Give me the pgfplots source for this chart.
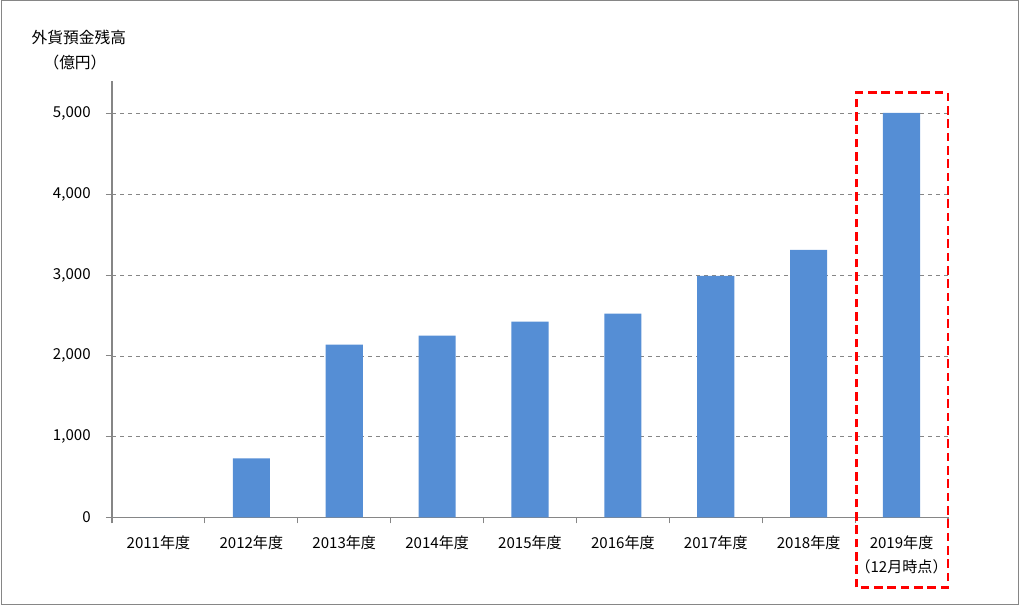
\documentclass[border=0pt]{standalone}
\usepackage{fontspec}
\setmainfont{Noto Sans CJK JP}
\usepackage{pgfplots}
\pgfplotsset{compat=1.18}
\definecolor{barblue}{RGB}{85,142,213}
\definecolor{axgray}{RGB}{134,134,134}
\begin{document}
\begin{tikzpicture}
\begin{axis}[
  at={(0,0)}, anchor=south west,
  scale only axis,
  width=627pt, height=327pt,
  xmin=-0.5, xmax=8.5,
  ymin=0, ymax=5400,
  axis lines=left,
  axis line style={-, axgray, line width=0.8pt},
  ytick={0,1000,2000,3000,4000,5000},
  xtick={0,1,2,3,4,5,6,7,8},
  xticklabels={2011年度,2012年度,2013年度,2014年度,2015年度,2016年度,2017年度,2018年度,{2019年度\\（12月時点）}},
  minor xtick={-0.5,0.5,1.5,2.5,3.5,4.5,5.5,6.5,7.5,8.5},
  major x tick style={draw=none},
  minor x tick style={axgray, line width=0.8pt},
  ytick style={axgray, line width=0.8pt},
  tick align=outside,
  major tick length=4.5pt,
  minor tick length=4.5pt,
  ymajorgrids,
  grid style={axgray, dashed, line width=0.6pt},
  /pgf/number format/assume math mode=true,
  /pgf/number format/1000 sep={,},
  scaled y ticks=false,
  tick label style={font=\fontsize{11.3}{18}\selectfont, text=black},
  xticklabel style={align=center, yshift=-6pt},
  yticklabel style={xshift=-8pt},
  clip=false,
]
\addplot[ybar, bar width=0.4, fill=barblue, draw=none] coordinates {
  (0,0) (1,730) (2,2140) (3,2250) (4,2425) (5,2525) (6,2990) (7,3315) (8,5010)
};
\draw[red, line width=2.2pt, dash pattern=on 6.5pt off 3.5pt] (axis cs:7.51,-866) rectangle (axis cs:8.5,5260);
\end{axis}
\node[anchor=west, font=\fontsize{11.8}{13}\selectfont] at (-63.75pt,360pt) {外貨預金残高};
\node[font=\fontsize{11.8}{13}\selectfont] at (-27.75pt,341.25pt) {（億円）};
\draw[axgray, line width=0.6pt] (-83.25pt,-65.25pt) rectangle (679.5pt,387.75pt);
\useasboundingbox (-84pt,-68pt) rectangle (681pt,388pt);
\end{tikzpicture}
\end{document}
